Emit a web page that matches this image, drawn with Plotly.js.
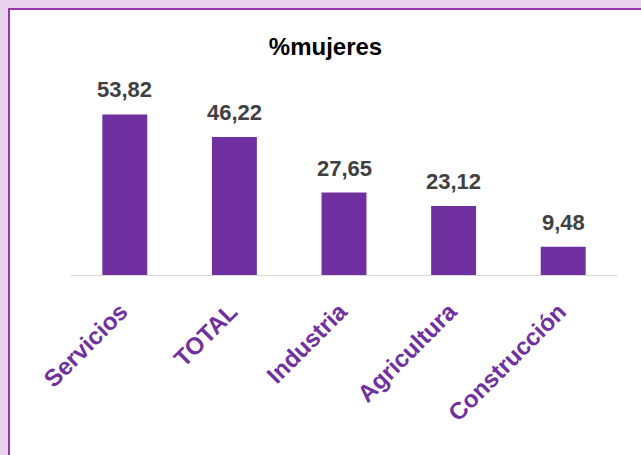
<!DOCTYPE html>
<html>
<head>
<meta charset="utf-8">
<script src="https://cdn.plot.ly/plotly-3.0.1.min.js"></script>
<style>
  html, body { margin: 0; padding: 0; background: #e9d2ec; width: 641px; height: 455px; overflow: hidden; }
  #frame { position: absolute; left: 8px; top: 8px; width: 633px; height: 447px; border-top: 2px solid #9a35b0; border-left: 2px solid #9a35b0; background: #ffffff; }
  #chart { width: 631px; height: 445px; }
</style>
</head>
<body>
<div id="frame"><div id="chart"></div></div>
<script>
const categories = ["Servicios", "TOTAL", "Industria", "Agricultura", "Construcción"];
const values = [53.82, 46.22, 27.65, 23.12, 9.48];
const chartTitle = "%mujeres";

const FONT = "Liberation Sans, Arial, sans-serif";

const trace = {
  type: "bar",
  x: categories,
  y: values,
  marker: { color: "#7030a0" },
  hoverinfo: "none"
};

const labelAnnotations = categories.map((c, i) => ({
  x: c,
  y: values[i],
  xref: "x",
  yref: "y",
  text: "<b>" + values[i].toFixed(2).replace(".", ",") + "</b>",
  showarrow: false,
  xanchor: "center",
  yanchor: "bottom",
  yshift: 10,
  font: { family: FONT, size: 22, color: "#404040" }
}));

const layout = {
  width: 631,
  height: 445,
  paper_bgcolor: "#ffffff",
  plot_bgcolor: "#ffffff",
  margin: { l: 60, r: 23, t: 86, b: 180 },
  bargap: 0.59,
  showlegend: false,
  title: {
    text: "<b>" + chartTitle + "</b>",
    font: { family: FONT, size: 24, color: "#000000" },
    x: 0.5, xanchor: "center", xref: "container",
    y: 1 - 37 / 445, yanchor: "middle"
  },
  annotations: labelAnnotations,
  xaxis: {
    type: "category",
    showline: true,
    linecolor: "#d9d9d9",
    linewidth: 1,
    showgrid: false,
    zeroline: false,
    ticks: "",
    tickangle: -45,
    ticklabelstandoff: 12,
    ticklabelshift: -4,
    tickfont: { family: FONT, size: 24, color: "#7030a0", weight: "bold" }
  },
  yaxis: {
    visible: false,
    range: [0, 60],
    showgrid: false,
    zeroline: false
  }
};

Plotly.newPlot("chart", [trace], layout, { displayModeBar: false, staticPlot: true });
</script>
</body>
</html>
